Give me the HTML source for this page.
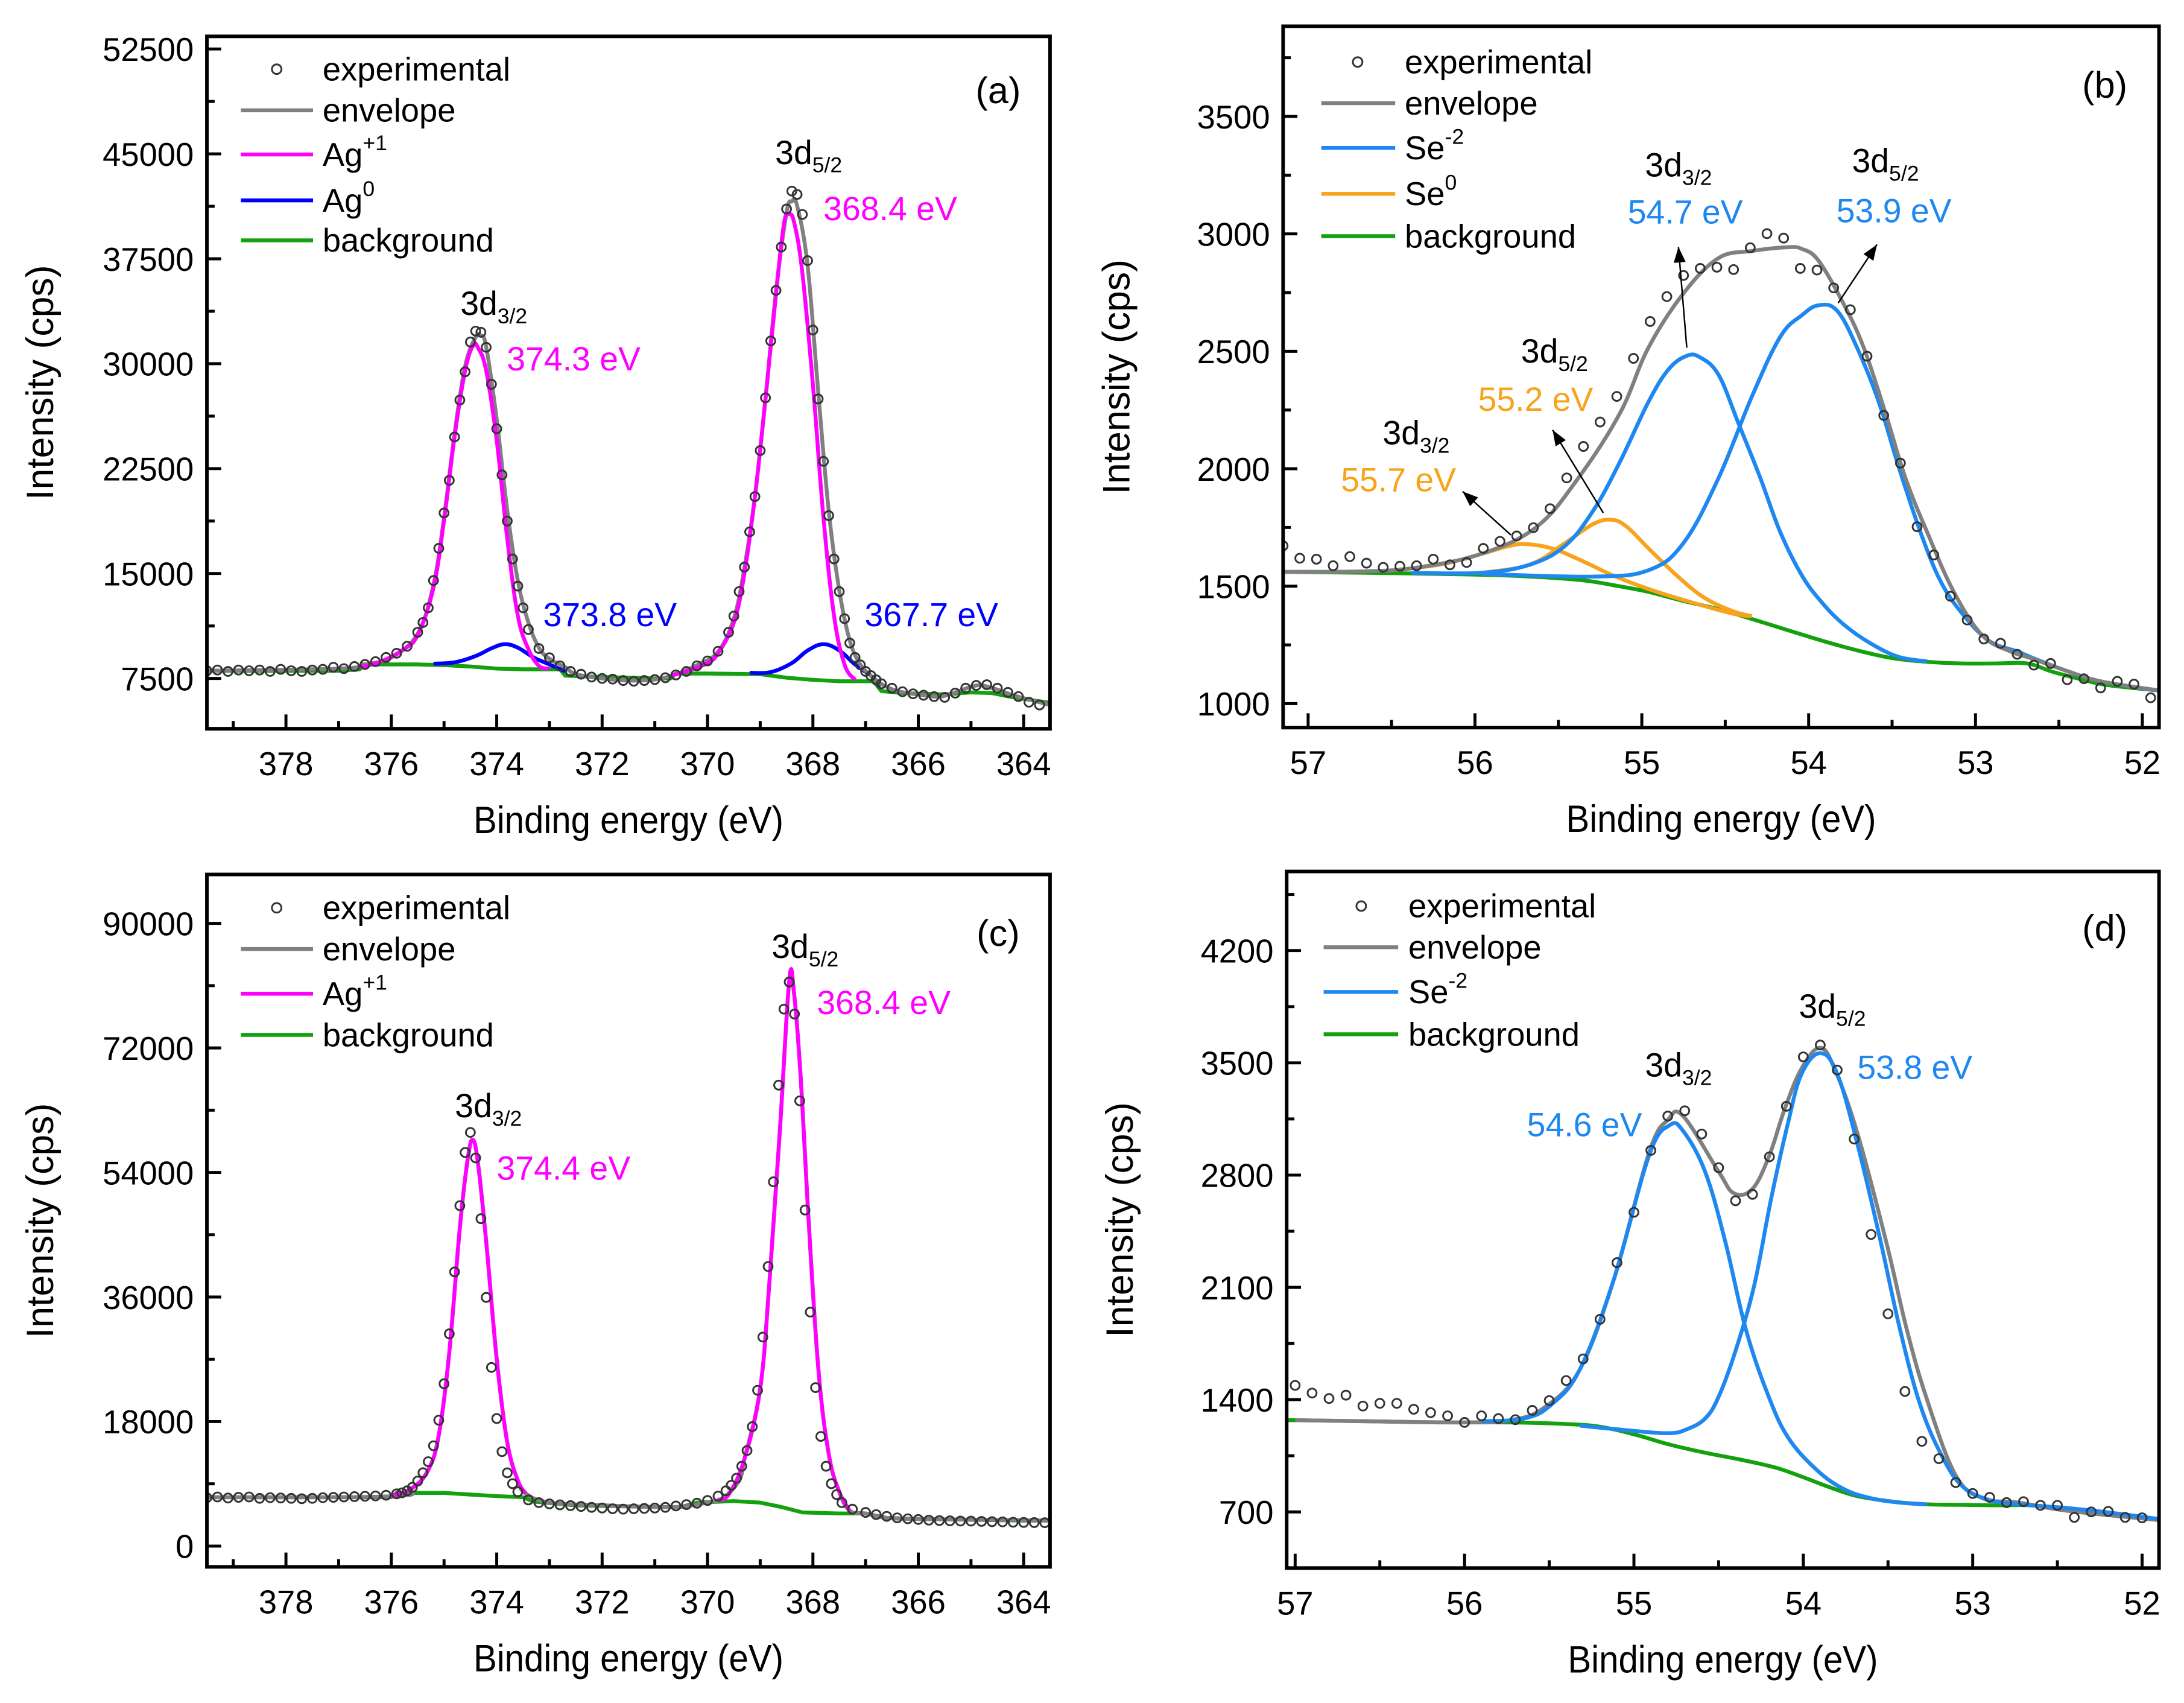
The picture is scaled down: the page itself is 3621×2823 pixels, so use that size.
<!DOCTYPE html>
<html><head><meta charset="utf-8"><title>XPS spectra</title>
<style>
html,body{margin:0;padding:0;background:#fff;}
svg{display:block;}
text{font-family:"Liberation Sans",Arial,sans-serif;}
</style></head>
<body>
<svg id="fig" xmlns="http://www.w3.org/2000/svg" width="3621" height="2823" viewBox="0 0 3621 2823">
<rect width="3621" height="2823" fill="#fff"/>
</svg>
<script>
// ---------- Panel (a) data ----------
const aExpE=[379.5,379.3,379.1,378.9,378.7,378.5,378.3,378.1,377.9,377.7,377.5,377.3,377.1,376.9,376.7,376.5,376.3,376.1,375.9,375.7,375.5,375.4,375.3,375.2,375.1,375.0,374.9,374.8,374.7,374.6,374.5,374.4,374.3,374.2,374.1,374.0,373.9,373.8,373.7,373.6,373.5,373.4,373.2,373.0,372.8,372.6,372.4,372.2,372.0,371.8,371.6,371.4,371.2,371.0,370.8,370.6,370.4,370.2,370.0,369.8,369.6,369.5,369.4,369.3,369.2,369.1,369.0,368.9,368.8,368.7,368.6,368.5,368.4,368.3,368.2,368.1,368.0,367.9,367.8,367.7,367.6,367.5,367.4,367.3,367.2,367.1,367.0,366.9,366.8,366.7,366.5,366.3,366.1,365.9,365.7,365.5,365.3,365.1,364.9,364.7,364.5,364.3,364.1,363.9,363.7];
const aExpV=[8050,8100,8000,8100,8050,8100,8000,8150,8050,8000,8100,8150,8300,8200,8350,8500,8700,9000,9300,9800,10800,11500,12550,14500,16800,19330,21660,24760,27400,29420,31550,32330,32250,31170,28530,25350,22050,18750,16040,14100,12550,11000,9640,8980,8400,8000,7800,7600,7500,7450,7350,7300,7350,7420,7550,7750,8000,8400,8750,9440,10800,11960,13710,15460,17980,20500,23790,27560,31630,35240,38340,41060,42340,42100,40670,37370,32410,27480,23020,19140,16040,13710,11770,10030,9000,8470,8000,7700,7400,7120,6800,6550,6400,6300,6200,6150,6450,6800,7000,7050,6800,6500,6200,5800,5600];
const aEnvE=[379.5,377.0,376.5,376.0,375.5,375.2,375.0,374.8,374.6,374.4,374.3,374.2,374.0,373.8,373.6,373.4,373.2,373.0,372.7,372.5,372.0,371.5,371.0,370.6,370.2,369.8,369.5,369.3,369.1,368.9,368.7,368.5,368.4,368.3,368.1,367.9,367.7,367.5,367.3,367.1,366.9,366.7,366.4,366.0,365.6,365.3,365.0,364.8,364.5,364.2,363.5];
const aEnvV=[8050,8200,8500,9000,10700,14200,19000,25000,29800,31900,32000,31200,26000,19500,14500,11500,9700,8900,8300,7800,7500,7350,7420,7800,8450,9400,11800,15400,20500,27500,35200,40800,41600,41300,37000,28000,19500,13800,10200,8500,7700,7100,6600,6350,6200,6500,6900,7000,6700,6300,5600];
const aAg1E=[376.6,376.2,375.8,375.5,375.2,375.0,374.8,374.6,374.45,374.35,374.2,374.0,373.8,373.6,373.4,373.2,373.0];
const aAg1V=[8300,8700,9500,10600,14000,18800,24800,29500,31300,31100,29500,24500,17500,12000,9600,8400,8200];
const aAg1bE=[370.7,370.4,370.0,369.8,369.5,369.3,369.1,368.9,368.7,368.55,368.45,368.35,368.2,368.0,367.8,367.6,367.4,367.2];
const aAg1bV=[7700,8000,8600,9300,11500,15000,20500,27500,35000,40000,40700,40000,36500,28500,19000,12000,8500,7400];
const aAg0E=[375.2,374.8,374.4,374.1,373.85,373.6,373.3,373.0,372.7];
const aAg0V=[8550,8650,9100,9650,9950,9700,9000,8500,8000];
const aAg0bE=[369.2,368.8,368.4,368.1,367.8,367.5,367.2,366.9,366.7];
const aAg0bV=[7900,7950,8600,9500,9950,9500,8500,7700,7000];
const aBgE=[379.5,377.0,376.6,376.55,375.5,375.0,374.5,374.0,373.5,372.8,372.7,372.0,371.0,370.7,370.6,370.0,369.0,368.5,368.0,367.5,366.85,366.7,366.3,365.5,365.0,364.6,364.2,363.5];
const aBgV=[8050,8050,8150,8500,8500,8450,8350,8200,8150,8150,7700,7600,7500,7500,7850,7850,7800,7550,7400,7300,7300,6600,6450,6350,6500,6450,6150,5750];

// ---------- Panel (b) data ----------
const bExpV=[1672,1619,1615,1587,1626,1598,1580,1585,1587,1615,1591,1601,1661,1691,1714,1749,1830,1961,2095,2199,2308,2470,2627,2733,2823,2853,2858,2848,2941,3001,2982,2853,2846,2770,2677,2479,2227,2024,1753,1633,1457,1356,1275,1257,1210,1164,1171,1102,1106,1067,1095,1083,1025];
const bExpStart=57.15, bExpStep=0.1;
const bEnvE=[57.15,56.63,56.34,55.96,55.63,55.38,55.13,54.96,54.75,54.54,54.34,54.13,54.04,53.94,53.79,53.67,53.54,53.42,53.29,53.13,52.96,52.79,52.67,52.46,52.25,51.9];
const bEnvV=[1561,1564,1580,1638,1753,1961,2238,2516,2747,2897,2927,2943,2936,2885,2701,2516,2238,1961,1730,1476,1291,1222,1194,1141,1095,1056];
const bSe52E=[55.96,55.29,54.96,54.75,54.54,54.34,54.17,54.04,53.94,53.83,53.71,53.58,53.46,53.33,53.21,53.08,52.92,52.75,52.63,52.46,52.25,51.92];
const bSe52V=[1552,1541,1568,1684,1961,2308,2562,2654,2696,2673,2516,2285,2007,1730,1522,1384,1268,1222,1187,1141,1095,1056];
const bSe32E=[56.38,55.96,55.67,55.46,55.29,55.13,54.96,54.84,54.73,54.65,54.54,54.42,54.29,54.17,54.04,53.92,53.79,53.63,53.46,53.29];
const bSe32V=[1557,1557,1592,1672,1823,2031,2285,2423,2481,2474,2400,2192,1961,1730,1545,1430,1337,1257,1199,1180];
const bSe0aE=[55.96,55.67,55.46,55.29,55.18,55.09,54.96,54.79,54.63,54.46,54.34];
const bSe0aV=[1557,1592,1684,1765,1783,1753,1661,1545,1453,1395,1372];
const bSe0bE=[56.55,56.21,55.96,55.79,55.69,55.54,55.38,55.17,54.96,54.75,54.46,54.34];
const bSe0bV=[1564,1592,1638,1672,1679,1661,1615,1545,1488,1441,1384,1372];
const bBgE=[57.15,56.63,56.21,55.79,55.38,55.13,54.96,54.75,54.54,54.34,54.13,53.92,53.71,53.50,53.29,53.08,52.88,52.69,52.54,52.38,52.21,51.90];
const bBgV=[1561,1557,1552,1545,1527,1499,1476,1437,1402,1360,1314,1268,1227,1194,1178,1171,1171,1171,1136,1106,1079,1056];

// ---------- Panel (c) data ----------
const cExpE=[379.5,379.3,379.1,378.9,378.7,378.5,378.3,378.1,377.9,377.7,377.5,377.3,377.1,376.9,376.7,376.5,376.3,376.1,375.9,375.8,375.7,375.6,375.5,375.4,375.3,375.2,375.1,375.0,374.9,374.8,374.7,374.6,374.5,374.4,374.3,374.2,374.1,374.0,373.9,373.8,373.7,373.6,373.4,373.2,373.0,372.8,372.6,372.4,372.2,372.0,371.8,371.6,371.4,371.2,371.0,370.8,370.6,370.4,370.2,370.0,369.8,369.65,369.55,369.45,369.35,369.25,369.15,369.05,368.95,368.85,368.75,368.65,368.55,368.45,368.35,368.25,368.15,368.05,367.95,367.85,367.75,367.65,367.55,367.45,367.25,367.0,366.8,366.6,366.4,366.2,366.0,365.8,365.6,365.4,365.2,365.0,364.8,364.6,364.4,364.2,364.0,363.8,363.6];
const cExpV=[7000,7100,6950,7050,7100,6900,7000,6950,6900,6850,6900,7000,7050,7100,7150,7200,7250,7350,7550,7700,8000,8500,9400,10600,12200,14500,18200,23460,30680,39630,49200,56890,59790,56100,47320,35940,25820,18440,13650,10590,9020,7850,6670,6280,6100,5960,5850,5730,5600,5500,5400,5340,5400,5450,5500,5600,5800,6000,6200,6590,7220,8000,8790,9810,11540,13810,17260,22520,30210,40410,52650,66620,77610,81530,76900,64350,48570,33820,22910,15850,11540,9020,7450,6280,5340,4870,4550,4300,4080,3950,3850,3750,3690,3650,3620,3610,3570,3530,3500,3450,3420,3400,3380];
const cEnvE=[379.5,376.0,375.6,375.3,375.1,374.9,374.7,374.55,374.45,374.35,374.2,374.0,373.8,373.6,373.45,373.0,372.0,371.0,370.5,370.0,369.7,369.4,369.3,369.0,368.83,368.63,368.45,368.36,368.23,368.1,367.9,367.7,367.5,367.3,367.0,366.6,366.0,363.5];
const cEnvV=[7060,7200,8400,11000,16000,28000,46000,56000,58700,55000,44000,27000,15000,9500,7600,6300,5900,5650,5700,6300,7000,9500,12550,22760,37670,59640,81610,80040,67480,49440,25900,13340,7850,5100,4710,4080,3920,3690];
const cAgE=[376.0,375.6,375.3,375.1,374.9,374.7,374.55,374.45,374.35,374.2,374.0,373.8,373.6,373.45];
const cAgV=[7200,8400,11000,16000,28000,46000,56000,58700,55000,44000,27000,15000,9500,7600];
const cAgbE=[369.8,369.6,369.3,369.0,368.83,368.63,368.45,368.36,368.23,368.1,367.9,367.7,367.5,367.3];
const cAgbV=[6700,7450,12550,22760,37670,59640,81610,80040,67480,49440,25900,13340,7850,5100];
const cBgE=[379.5,376.0,375.9,375.0,374.5,374.0,373.5,373.3,372.5,371.0,370.5,370.2,369.5,369.0,368.6,368.2,367.5,367.0,366.6,366.0,364.0,363.5];
const cBgV=[7060,7060,7690,7690,7450,7220,7060,6430,5890,5650,5650,6280,6510,6280,5650,4870,4710,4710,4080,3920,3690,3690];

// ---------- Panel (d) data ----------
const dExpV=[1489,1441,1407,1428,1360,1377,1377,1340,1319,1299,1258,1299,1282,1275,1333,1394,1519,1654,1901,2254,2568,2954,3168,3201,3056,2846,2640,2680,2914,3229,3537,3611,3455,3025,2430,1935,1451,1140,1032,883,815,791,758,764,741,741,666,700,703,666,663];
const dExpStart=57.0, dExpStep=0.1;
const dEnvE=[57.0,56.02,55.73,55.53,55.32,55.12,54.91,54.80,54.71,54.50,54.41,54.30,54.20,54.11,54.01,53.90,53.81,53.68,53.51,53.39,53.27,53.10,52.94,52.73,52.44,51.90];
const dEnvV=[1272,1258,1272,1350,1587,2145,2941,3144,3168,2822,2687,2714,2924,3212,3465,3594,3449,3059,2382,1841,1401,927,785,758,707,649];
const dSe32E=[55.90,55.65,55.49,55.32,55.12,54.91,54.79,54.71,54.58,54.46,54.34,54.21,54.09,53.92,53.76,53.60,53.43,53.27];
const dSe32V=[1265,1282,1367,1587,2145,2924,3110,3076,2822,2382,1841,1434,1164,961,842,785,758,747];
const dSe52E=[55.32,54.99,54.79,54.69,54.58,54.50,54.40,54.29,54.19,54.09,54.01,53.90,53.80,53.68,53.55,53.43,53.31,53.18,53.06,52.90,52.73,52.44,52.20,51.90];
const dSe52V=[1238,1204,1191,1214,1282,1418,1705,2112,2653,3127,3432,3560,3432,2992,2416,1841,1367,1045,859,774,747,724,697,656];
const dBgE=[57.04,56.56,56.14,55.73,55.40,55.20,54.99,54.79,54.58,54.38,54.17,54.01,53.84,53.68,53.47,53.27,53.06,52.86,52.65,52.44,52.24,51.90];
const dBgV=[1272,1265,1258,1258,1248,1231,1181,1120,1069,1028,978,920,852,798,764,747,744,741,741,717,690,649];

// ---------- ticks ----------
const agXTicks=[378,376,374,372,370,368,366,364];
const seXTicks=[57,56,55,54,53,52];
const aYTicks=[7500,15000,22500,30000,37500,45000,52500];
const bYTicks=[1000,1500,2000,2500,3000,3500];
const cYTicks=[0,18000,36000,54000,72000,90000];
const dYTicks=[700,1400,2100,2800,3500,4200];

const NS='http://www.w3.org/2000/svg';
const svg=document.getElementById('fig');
function mk(tag,attrs,parent){const e=document.createElementNS(NS,tag);for(const k in attrs)e.setAttribute(k,attrs[k]);parent.appendChild(e);return e;}

function smoothPath(pts){
  if(pts.length<2)return '';
  let d='M'+pts[0][0].toFixed(1)+','+pts[0][1].toFixed(1);
  const t=0.18;
  for(let i=0;i<pts.length-1;i++){
    const p0=pts[i-1]||pts[i],p1=pts[i],p2=pts[i+1],p3=pts[i+2]||p2;
    const c1=[p1[0]+(p2[0]-p0[0])*t,p1[1]+(p2[1]-p0[1])*t];
    const c2=[p2[0]-(p3[0]-p1[0])*t,p2[1]-(p3[1]-p1[1])*t];
    d+='C'+c1[0].toFixed(1)+','+c1[1].toFixed(1)+' '+c2[0].toFixed(1)+','+c2[1].toFixed(1)+' '+p2[0].toFixed(1)+','+p2[1].toFixed(1);
  }
  return d;
}

function makePanel(cfg){
  const g=mk('g',{transform:'translate('+cfg.ox+','+cfg.oy+') scale(0.9886)'},svg);
  
  
  const L=cfg.L,R=cfg.R,T=cfg.T,B=cfg.B;
  const xs=v=>L+(v-cfg.xd[0])/(cfg.xd[1]-cfg.xd[0])*(R-L);
  const ys=v=>B-(v-cfg.yd[0])/(cfg.yd[1]-cfg.yd[0])*(B-T);
  cfg.xs=xs;cfg.ys=ys;cfg.g=g;
  const cid='clip-'+cfg.name;
  const cp=mk('clipPath',{id:cid},g);
  mk('rect',{x:L,y:T,width:R-L,height:B-T},cp);
  const plot=mk('g',{'clip-path':'url(#'+cid+')'},g);
  
  
  cfg.plot=plot;
  const xt=mk('g',{},g);
  
  
  cfg.xTicks.forEach(v=>{
    const x=xs(v);
    mk('line',{x1:x,y1:B,x2:x,y2:B-24,stroke:'#000','stroke-width':5},xt);
    const tx=mk('text',{x:x,y:B+78,'font-size':55,'text-anchor':'middle',fill:'#000'},xt);
    tx.textContent=String(v);
    
    
  });
  const xmin=Math.min(cfg.xd[0],cfg.xd[1]),xmax=Math.max(cfg.xd[0],cfg.xd[1]);
  for(let v=Math.ceil(xmin/cfg.xMinor)*cfg.xMinor;v<=xmax+1e-9;v+=cfg.xMinor){
    if(cfg.xTicks.some(t=>Math.abs(t-v)<1e-6))continue;
    const x=xs(v);
    mk('line',{x1:x,y1:B,x2:x,y2:B-13,stroke:'#000','stroke-width':5},xt);
  }
  const yt=mk('g',{},g);
  
  
  cfg.yTicks.forEach(v=>{
    const y=ys(v);
    mk('line',{x1:L,y1:y,x2:L+24,y2:y,stroke:'#000','stroke-width':5},yt);
    const tx=mk('text',{x:L-22,y:y+20,'font-size':55,'text-anchor':'end',fill:'#000'},yt);
    tx.textContent=String(v);
    
    
  });
  const step=cfg.yTicks[1]-cfg.yTicks[0];
  for(let v=cfg.yTicks[0]-step/2;v<cfg.yd[1];v+=step){
    if(v<=cfg.yd[0])continue;
    const y=ys(v);
    mk('line',{x1:L,y1:y,x2:L+13,y2:y,stroke:'#000','stroke-width':5},yt);
  }
  const ytl=mk('text',{x:0,y:0,'font-size':64,'text-anchor':'middle',fill:'#000',textLength:394,lengthAdjust:'spacingAndGlyphs',transform:'translate('+(L-258)+','+((T+B)/2)+') rotate(-90)'},g);
  ytl.textContent='Intensity (cps)';
  
  
  const xtl=mk('text',{x:(L+R)/2,y:B+175,'font-size':64,'text-anchor':'middle',fill:'#000',textLength:520,lengthAdjust:'spacingAndGlyphs'},g);
  xtl.textContent='Binding energy (eV)';
  
  
  const pl=mk('text',{x:cfg.lab[0],y:cfg.lab[1],'font-size':62,'text-anchor':'middle',fill:'#000'},g);
  pl.textContent=cfg.labText;
  
  
  return cfg;
}
function frame(cfg){
  const f=mk('rect',{x:cfg.L,y:cfg.T,width:cfg.R-cfg.L,height:cfg.B-cfg.T,fill:'none',stroke:'#000','stroke-width':6},cfg.g);
  
  
}
function curve(cfg,E,V,color,name,smooth){
  const pts=E.map((e,i)=>[cfg.xs(e),cfg.ys(V[i])]);
  const d=smooth?smoothPath(pts):'M'+pts.map(p=>p[0].toFixed(1)+','+p[1].toFixed(1)).join('L');
  const p=mk('path',{d:d,fill:'none',stroke:color,'stroke-width':6.5,'stroke-linejoin':'round'},cfg.plot);
  
  
}
function dots(cfg,E,V){
  const g=mk('g',{},cfg.plot);
  
  
  E.forEach((e,i)=>{
    const c=mk('circle',{cx:cfg.xs(e),cy:cfg.ys(V[i]),r:7.5,fill:'none',stroke:'#333','stroke-width':3},g);
    
    
  });
}
function legend(cfg,items){
  const g=mk('g',{},cfg.g);
  
  
  items.forEach((it,i)=>{
    const y=cfg.leg.rows[i];
    const row=mk('g',{},g);
    
    
    if(it.c==='dot') mk('circle',{cx:cfg.leg.cx,cy:y,r:8,fill:'none',stroke:'#333','stroke-width':3},row);
    else mk('line',{x1:cfg.leg.l1,y1:y,x2:cfg.leg.l2,y2:y,stroke:it.c,'stroke-width':6.5},row);
    const t=mk('text',{x:cfg.leg.tx,y:y+19,'font-size':55,fill:'#000'},row);
    t.appendChild(document.createTextNode(it.t));
    if(it.sup){const s=mk('tspan',{'font-size':36,dy:-26},t);s.textContent=it.sup;}
  });
}
function ann(cfg,x,y,txt,sub,color,name){
  const t=mk('text',{x:x,y:y,'font-size':56,fill:color,style:'fill:'+color},cfg.g);
  
  
  t.appendChild(document.createTextNode(txt));
  if(sub){const s=mk('tspan',{'font-size':36,dy:14},t);s.textContent=sub;}
}
function arrow(cfg,x1,y1,x2,y2){
  const g=mk('g',{},cfg.g);
  
  
  mk('line',{x1:x1,y1:y1,x2:x2,y2:y2,stroke:'#000','stroke-width':2.5},g);
  const a=Math.atan2(y2-y1,x2-x1),h=26,w=10;
  const bx=x2-h*Math.cos(a),by=y2-h*Math.sin(a);
  mk('polygon',{points:x2+','+y2+' '+(bx+w*Math.sin(a))+','+(by-w*Math.cos(a))+' '+(bx-w*Math.sin(a))+','+(by+w*Math.cos(a)),fill:'#000'},g);
}

const MAG='#ff00ff',BLU0='#0000ff',GRN='#13a10e',GRY='#808080',SEB='#1e88f0',ORG='#f7a31c';

// ---- Panel a ----
const A=makePanel({name:'panel-a',ox:0,oy:0,L:347,R:1761,T:61,B:1222,xd:[379.5,363.5],yd:[3900,53400],xTicks:agXTicks,xMinor:1,yTicks:aYTicks,lab:[1674,173],labText:'(a)'});
curve(A,aBgE,aBgV,GRN,'background-line',false);
curve(A,aAg0E,aAg0V,BLU0,'ag0-peak-373.8',true);
curve(A,aAg0bE,aAg0bV,BLU0,'ag0-peak-367.7',true);
curve(A,aEnvE,aEnvV,GRY,'envelope-line',true);
curve(A,aAg1E,aAg1V,MAG,'ag1-peak-374.3',true);
curve(A,aAg1bE,aAg1bV,MAG,'ag1-peak-368.4',true);
dots(A,aExpE,aExpV);
frame(A);
A.leg={rows:[116,185,259,336,403],cx:464,l1:404,l2:525,tx:541};
legend(A,[{c:'dot',t:'experimental'},{c:GRY,t:'envelope'},{c:MAG,t:'Ag',sup:'+1'},{c:BLU0,t:'Ag',sup:'0'},{c:GRN,t:'background'}]);
ann(A,1300,275,'3d','5/2','#000','label-3d52');
ann(A,1381,369,'368.4 eV','',MAG,'label-368.4');
ann(A,772,528,'3d','3/2','#000','label-3d32');
ann(A,850,621,'374.3 eV','',MAG,'label-374.3');
ann(A,911,1050,'373.8 eV','',BLU0,'label-373.8');
ann(A,1450,1050,'367.7 eV','',BLU0,'label-367.7');

// ---- Panel b ----
const bExpE=bExpV.map((v,i)=>bExpStart-bExpStep*i);
const Bp=makePanel({name:'panel-b',ox:1810,oy:0,L:321,R:1790,T:44,B:1220,xd:[57.15,51.9],yd:[898,3884],xTicks:seXTicks,xMinor:0.5,yTicks:bYTicks,lab:[1699,164],labText:'(b)'});
curve(Bp,bBgE,bBgV,GRN,'background-line',true);
curve(Bp,bSe0bE,bSe0bV,ORG,'se0-3d32-peak',true);
curve(Bp,bSe0aE,bSe0aV,ORG,'se0-3d52-peak',true);
curve(Bp,bSe32E,bSe32V,SEB,'se2-3d32-peak',true);
curve(Bp,bSe52E,bSe52V,SEB,'se2-3d52-peak',true);
curve(Bp,bEnvE,bEnvV,GRY,'envelope-line',true);
dots(Bp,bExpE,bExpV);
frame(Bp);
Bp.leg={rows:[104,173,248,325,396],cx:446,l1:385,l2:509,tx:525};
legend(Bp,[{c:'dot',t:'experimental'},{c:GRY,t:'envelope'},{c:SEB,t:'Se',sup:'-2'},{c:ORG,t:'Se',sup:'0'},{c:GRN,t:'background'}]);
ann(Bp,488,745,'3d','3/2','#000','label-3d32-se0');
ann(Bp,418,824,'55.7 eV','',ORG,'label-55.7');
ann(Bp,720,608,'3d','5/2','#000','label-3d52-se0');
ann(Bp,648,689,'55.2 eV','',ORG,'label-55.2');
ann(Bp,928,296,'3d','3/2','#000','label-3d32-se2');
ann(Bp,899,375,'54.7 eV','',SEB,'label-54.7');
ann(Bp,1275,289,'3d','5/2','#000','label-3d52-se2');
ann(Bp,1249,373,'53.9 eV','',SEB,'label-53.9');
arrow(Bp,703,897,622,824);
arrow(Bp,858,860,773,721);
arrow(Bp,998,583,984,414);
arrow(Bp,1252,508,1317,410);

// ---- Panel c ----
const C=makePanel({name:'panel-c',ox:0,oy:1411,L:347,R:1761,T:39,B:1200,xd:[379.5,363.5],yd:[-3000,97070],xTicks:agXTicks,xMinor:1,yTicks:cYTicks,lab:[1674,159],labText:'(c)'});
curve(C,cBgE,cBgV,GRN,'background-line',false);
curve(C,cEnvE,cEnvV,GRY,'envelope-line',true);
curve(C,cAgE,cAgV,MAG,'ag1-peak-374.4',true);
curve(C,cAgbE,cAgbV,MAG,'ag1-peak-368.4',true);
dots(C,cExpE,cExpV);
frame(C);
C.leg={rows:[95,164,239,308],cx:464,l1:404,l2:525,tx:541};
legend(C,[{c:'dot',t:'experimental'},{c:GRY,t:'envelope'},{c:MAG,t:'Ag',sup:'+1'},{c:GRN,t:'background'}]);
ann(C,1294,179,'3d','5/2','#000','label-3d52');
ann(C,1370,273,'368.4 eV','',MAG,'label-368.4');
ann(C,763,446,'3d','3/2','#000','label-3d32');
ann(C,833,551,'374.4 eV','',MAG,'label-374.4');

// ---- Panel d ----
const dExpE=dExpV.map((v,i)=>dExpStart-dExpStep*i);
const D=makePanel({name:'panel-d',ox:1810,oy:1411,L:327,R:1790,T:34,B:1202,xd:[57.05,51.9],yd:[350,4693],xTicks:seXTicks,xMinor:0.5,yTicks:dYTicks,lab:[1699,150],labText:'(d)'});
curve(D,dBgE,dBgV,GRN,'background-line',true);
curve(D,dEnvE,dEnvV,GRY,'envelope-line',true);
curve(D,dSe32E,dSe32V,SEB,'se2-3d32-peak',true);
curve(D,dSe52E,dSe52V,SEB,'se2-3d52-peak',true);
dots(D,dExpE,dExpV);
frame(D);
D.leg={rows:[92,161,236,307],cx:452,l1:389,l2:514,tx:531};
legend(D,[{c:'dot',t:'experimental'},{c:GRY,t:'envelope'},{c:SEB,t:'Se',sup:'-2'},{c:GRN,t:'background'}]);
ann(D,1186,279,'3d','5/2','#000','label-3d52');
ann(D,1284,382,'53.8 eV','',SEB,'label-53.8');
ann(D,928,378,'3d','3/2','#000','label-3d32');
ann(D,730,478,'54.6 eV','',SEB,'label-54.6');
</script>
</body></html>
